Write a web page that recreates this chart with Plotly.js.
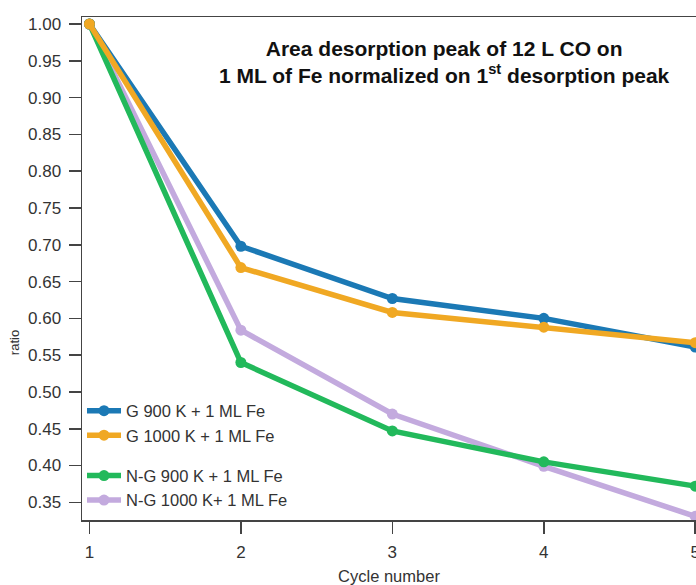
<!DOCTYPE html>
<html>
<head>
<meta charset="utf-8">
<script src="https://cdn.plot.ly/plotly-3.0.1.min.js"></script>
<style>html,body{margin:0;padding:0;background:#fff;}#chart{width:696px;height:585px;}</style>
</head>
<body>
<div id="chart"></div>
<script>
const cycles = [1, 2, 3, 4, 5];
const g900 = [1.00, 0.698, 0.627, 0.600, 0.561];
const g1000 = [1.00, 0.669, 0.608, 0.588, 0.567];
const ng900 = [1.00, 0.540, 0.447, 0.405, 0.372];
const ng1000 = [1.00, 0.584, 0.470, 0.399, 0.331];
const seriesNames = ["G 900 K + 1 ML Fe", "G 1000 K + 1 ML Fe", "N-G 900 K + 1 ML Fe", "N-G 1000 K+ 1 ML Fe"];
const seriesColors = ["#1b79b5", "#f0a823", "#22b95b", "#c3aade"];
const groups = ["G", "G", "NG", "NG"];
const yTicks = [0.35, 0.40, 0.45, 0.50, 0.55, 0.60, 0.65, 0.70, 0.75, 0.80, 0.85, 0.90, 0.95, 1.00];

const allY = [g900, g1000, ng900, ng1000];
const traces = allY.map((ys, i) => ({
  x: cycles, y: ys, type: "scatter", mode: "lines+markers",
  name: seriesNames[i], legendgroup: groups[i], legendrank: (i + 1) * 100,
  line: {color: seriesColors[i], width: 5.5},
  marker: {color: seriesColors[i], size: 11},
  cliponaxis: true
}));
// drawing order (bottom to top): purple, green, blue, orange
const drawOrder = [traces[3], traces[2], traces[0], traces[1]];

const font = "Liberation Sans, Arial, sans-serif";
const layout = {
  width: 696, height: 585,
  margin: {l: 82, r: 0, t: 17, b: 65},
  paper_bgcolor: "#fff", plot_bgcolor: "#fff",
  font: {family: font, color: "#333", size: 16},
  showlegend: true,
  legend: {
    x: 0.0, y: 0.005, xanchor: "left", yanchor: "bottom",
    bgcolor: "rgba(0,0,0,0)", font: {family: font, size: 16.5, color: "#333"},
    tracegroupgap: 16, traceorder: "grouped", itemwidth: 34
  },
  xaxis: {
    range: [0.951, 5.005], tickvals: cycles, ticktext: cycles.map(String),
    showgrid: false, zeroline: false, showline: true, mirror: true,
    linecolor: "#444", linewidth: 1.5, ticks: "outside", ticklen: 12, tickwidth: 1.5, tickcolor: "#444",
    tickfont: {family: font, size: 17, color: "#333"}, ticklabeloverflow: "allow", ticklabelstandoff: 4,
    title: {text: "Cycle number", font: {family: font, size: 16.5, color: "#333"}, standoff: 10}
  },
  yaxis: {
    range: [0.326, 1.0095], tickvals: yTicks, ticktext: yTicks.map(v => v.toFixed(2)),
    showgrid: false, zeroline: false, showline: true, mirror: false,
    linecolor: "#444", linewidth: 1.5, ticks: "outside", ticklen: 12, tickwidth: 1.5, tickcolor: "#444",
    tickfont: {family: font, size: 17, color: "#333"}, ticklabelstandoff: 4
  },
  annotations: [
    {xref: "paper", yref: "paper", x: 0.591, y: 0.911, xanchor: "center", yanchor: "middle",
     text: "<b>Area desorption peak of 12 L CO on<br>1 ML of Fe normalized on 1<sup>st</sup> desorption peak</b>",
     showarrow: false, font: {family: font, size: 21, color: "#111"}, align: "center"},
    {xref: "paper", yref: "y", x: 0, xshift: -77, y: 0.567, textangle: -90,
     text: "ratio", showarrow: false, font: {family: font, size: 13, color: "#333"}}
  ]
};
Plotly.newPlot("chart", drawOrder, layout, {displayModeBar: false, staticPlot: true});
</script>
</body>
</html>
